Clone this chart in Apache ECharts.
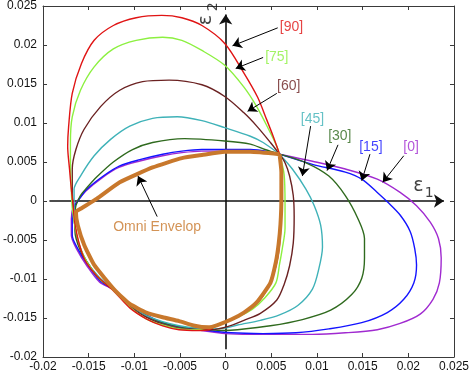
<!DOCTYPE html>
<html>
<head>
<meta charset="utf-8">
<script src="https://cdn.jsdelivr.net/npm/echarts@6/dist/echarts.min.js"></script>
<style>html,body{margin:0;padding:0;background:#fff}#c{width:472px;height:373px}</style>
</head>
<body>
<div id="c"></div>
<script>
// ---- data (strain values) ----
const curve0 = [[0.0059,0.0060],[0.0095,0.0051],[0.0131,0.0041],[0.0166,0.0028],[0.0191,0.0011],[0.0209,-0.0006],[0.0224,-0.0027],[0.0233,-0.0048],[0.0236,-0.0073],[0.0234,-0.0105],[0.0227,-0.0126],[0.0213,-0.0145],[0.0191,-0.0157],[0.0166,-0.0165],[0.0131,-0.0169],[0.0095,-0.0171],[0.0060,-0.0171],[0.0027,-0.0171],[-0.0001,-0.0170],[-0.0026,-0.0166],[-0.0051,-0.0162],[-0.0069,-0.0157],[-0.0087,-0.0147],[-0.0105,-0.0134],[-0.0121,-0.0115],[-0.0138,-0.0104],[-0.0152,-0.0083],[-0.0163,-0.0062],[-0.0169,-0.0044],[-0.0169,-0.0023],[-0.0167,-0.0008],[-0.0161,0.0002],[-0.0153,0.0013],[-0.0135,0.0030],[-0.0117,0.0043],[-0.0095,0.0051],[-0.0069,0.0058],[-0.0048,0.0062],[-0.0026,0.0064],[-0.0001,0.0064],[0.0027,0.0064],[0.0049,0.0062],[0.0059,0.0060]];
const curve15 = [[0.0059,0.0060],[0.0095,0.0047],[0.0131,0.0037],[0.0149,0.0028],[0.0166,0.0011],[0.0177,-0.0001],[0.0191,-0.0018],[0.0202,-0.0039],[0.0207,-0.0061],[0.0209,-0.0082],[0.0206,-0.0105],[0.0195,-0.0126],[0.0177,-0.0143],[0.0149,-0.0156],[0.0113,-0.0164],[0.0077,-0.0169],[0.0041,-0.0170],[0.0006,-0.0169],[-0.0026,-0.0165],[-0.0051,-0.0161],[-0.0069,-0.0156],[-0.0087,-0.0146],[-0.0105,-0.0133],[-0.0121,-0.0115],[-0.0137,-0.0103],[-0.0151,-0.0082],[-0.0162,-0.0061],[-0.0168,-0.0044],[-0.0168,-0.0023],[-0.0166,-0.0008],[-0.0160,0.0003],[-0.0152,0.0015],[-0.0134,0.0032],[-0.0116,0.0045],[-0.0094,0.0053],[-0.0069,0.0060],[-0.0048,0.0064],[-0.0026,0.0066],[-0.0001,0.0066],[0.0027,0.0066],[0.0049,0.0063],[0.0059,0.0060]];
const curve30 = [[0.0059,0.0060],[0.0088,0.0049],[0.0113,0.0032],[0.0131,0.0007],[0.0145,-0.0023],[0.0152,-0.0048],[0.0152,-0.0073],[0.0149,-0.0099],[0.0138,-0.0120],[0.0115,-0.0140],[0.0084,-0.0152],[0.0049,-0.0160],[0.0013,-0.0165],[-0.0001,-0.0166],[-0.0026,-0.0164],[-0.0051,-0.0161],[-0.0069,-0.0156],[-0.0087,-0.0147],[-0.0105,-0.0133],[-0.0121,-0.0115],[-0.0137,-0.0101],[-0.0151,-0.0080],[-0.0160,-0.0061],[-0.0165,-0.0039],[-0.0165,-0.0018],[-0.0164,-0.0006],[-0.0159,0.0007],[-0.0152,0.0017],[-0.0141,0.0031],[-0.0123,0.0050],[-0.0102,0.0066],[-0.0080,0.0075],[-0.0045,0.0080],[-0.0001,0.0077],[0.0027,0.0073],[0.0043,0.0066],[0.0059,0.0060]];
const curve45 = [[0.0059,0.0060],[0.0073,0.0041],[0.0088,0.0015],[0.0097,-0.0006],[0.0104,-0.0031],[0.0106,-0.0059],[0.0102,-0.0087],[0.0095,-0.0113],[0.0079,-0.0134],[0.0059,-0.0146],[0.0038,-0.0153],[0.0013,-0.0159],[-0.0001,-0.0163],[-0.0016,-0.0164],[-0.0051,-0.0160],[-0.0087,-0.0147],[-0.0105,-0.0132],[-0.0121,-0.0115],[-0.0139,-0.0097],[-0.0153,-0.0076],[-0.0161,-0.0054],[-0.0165,-0.0033],[-0.0166,-0.0010],[-0.0166,0.0015],[-0.0159,0.0032],[-0.0144,0.0058],[-0.0126,0.0079],[-0.0105,0.0096],[-0.0080,0.0106],[-0.0053,0.0108],[-0.0026,0.0103],[-0.0001,0.0094],[0.0027,0.0083],[0.0041,0.0075],[0.0059,0.0060]];
const curve60 = [[0.0059,0.0060],[0.0065,0.0049],[0.0070,0.0032],[0.0074,0.0007],[0.0075,-0.0020],[0.0074,-0.0054],[0.0070,-0.0083],[0.0064,-0.0107],[0.0056,-0.0127],[0.0038,-0.0144],[0.0020,-0.0153],[0.0002,-0.0161],[-0.0016,-0.0165],[-0.0051,-0.0163],[-0.0069,-0.0158],[-0.0087,-0.0149],[-0.0105,-0.0135],[-0.0121,-0.0115],[-0.0138,-0.0100],[-0.0152,-0.0078],[-0.0161,-0.0056],[-0.0165,-0.0033],[-0.0167,-0.0010],[-0.0168,0.0015],[-0.0168,0.0041],[-0.0164,0.0066],[-0.0155,0.0092],[-0.0137,0.0121],[-0.0116,0.0142],[-0.0091,0.0153],[-0.0062,0.0155],[-0.0026,0.0149],[-0.0001,0.0134],[0.0020,0.0113],[0.0034,0.0096],[0.0049,0.0075],[0.0059,0.0060]];
const curve75 = [[0.0059,0.0060],[0.0064,0.0034],[0.0065,-0.0004],[0.0065,-0.0035],[0.0062,-0.0061],[0.0059,-0.0081],[0.0055,-0.0105],[0.0043,-0.0124],[0.0029,-0.0139],[0.0013,-0.0149],[-0.0001,-0.0156],[-0.0016,-0.0162],[-0.0034,-0.0165],[-0.0051,-0.0164],[-0.0069,-0.0159],[-0.0087,-0.0151],[-0.0105,-0.0136],[-0.0121,-0.0115],[-0.0137,-0.0101],[-0.0151,-0.0080],[-0.0160,-0.0057],[-0.0165,-0.0033],[-0.0168,-0.0009],[-0.0169,0.0015],[-0.0170,0.0045],[-0.0170,0.0075],[-0.0168,0.0108],[-0.0159,0.0142],[-0.0144,0.0172],[-0.0123,0.0195],[-0.0098,0.0206],[-0.0069,0.0210],[-0.0048,0.0206],[-0.0026,0.0193],[-0.0001,0.0174],[0.0020,0.0146],[0.0034,0.0121],[0.0047,0.0092],[0.0056,0.0070],[0.0059,0.0060]];
const curve90 = [[0.0059,0.0060],[0.0061,0.0034],[0.0061,-0.0004],[0.0060,-0.0042],[0.0057,-0.0073],[0.0050,-0.0102],[0.0037,-0.0128],[0.0021,-0.0143],[0.0004,-0.0153],[-0.0010,-0.0160],[-0.0018,-0.0165],[-0.0030,-0.0166],[-0.0051,-0.0165],[-0.0069,-0.0160],[-0.0087,-0.0151],[-0.0105,-0.0137],[-0.0123,-0.0115],[-0.0141,-0.0096],[-0.0154,-0.0076],[-0.0161,-0.0052],[-0.0165,-0.0029],[-0.0167,-0.0006],[-0.0169,0.0015],[-0.0171,0.0041],[-0.0173,0.0070],[-0.0172,0.0095],[-0.0168,0.0138],[-0.0158,0.0176],[-0.0144,0.0206],[-0.0123,0.0225],[-0.0098,0.0235],[-0.0070,0.0238],[-0.0048,0.0235],[-0.0026,0.0225],[-0.0001,0.0202],[0.0020,0.0164],[0.0035,0.0133],[0.0045,0.0104],[0.0052,0.0083],[0.0059,0.0060]];
const omniEnvelope = [[0.0059,0.0060],[0.0061,0.0037],[0.0061,0.0003],[0.0060,-0.0030],[0.0058,-0.0055],[0.0055,-0.0078],[0.0049,-0.0105],[0.0034,-0.0130],[0.0020,-0.0143],[0.0006,-0.0152],[-0.0009,-0.0159],[-0.0019,-0.0162],[-0.0034,-0.0160],[-0.0051,-0.0154],[-0.0069,-0.0149],[-0.0087,-0.0143],[-0.0105,-0.0132],[-0.0121,-0.0115],[-0.0144,-0.0082],[-0.0155,-0.0056],[-0.0162,-0.0031],[-0.0164,-0.0014],[-0.0159,-0.0010],[-0.0141,0.0003],[-0.0116,0.0024],[-0.0080,0.0043],[-0.0048,0.0055],[-0.0026,0.0059],[-0.0001,0.0063],[0.0027,0.0063],[0.0059,0.0060]];

const curveNames = ['[0]','[15]','[30]','[45]','[60]','[75]','[90]'];
const curveColors = ['#a02ad0','#1414ff','#2f6a1e','#3fb2b8','#6b2222','#8cf040','#e01414'];
const omniName = 'Omni Envelop';
const omniColor = '#c8782c';

// annotation label anchors and arrows (data coordinates)
const labelTexts = ['[0]','[15]','[30]','[45]','[60]','[75]','[90]','Omni Envelop'];
const labelAnchors = [[0.0203,0.0069],[0.0159,0.0069],[0.0125,0.0083],[0.0095,0.0105],[0.0069,0.0147],[0.0056,0.0184],[0.0072,0.0223],[-0.0075,-0.0033]];
const arrowFrom = [[0.0195,0.0058],[0.0158,0.0060],[0.0123,0.0072],[0.0093,0.0096],[0.0056,0.0138],[0.0041,0.0184],[0.0057,0.0222],[-0.0075,-0.0020]];
const arrowTo = [[0.0172,0.0024],[0.0149,0.0026],[0.0111,0.0039],[0.0084,0.0032],[0.0024,0.0115],[0.0011,0.0170],[0.00075,0.0199],[-0.0096,0.0032]];
// origin axes (with arrows)
const axisArrowFrom = [[-0.0193,0],[0,-0.0190]];
const axisArrowTo = [[0.0239,0],[0,0.0239]];
const axisTitleTexts = ['ε','1','ε','2'];
const axisTitleAnchors = [[0.0211,0.0019],[0.0223,0.0010],[-0.0021,0.0232],[-0.0013,0.0249]];

const xMin = -0.02, xMax = 0.025, yMin = -0.02, yMax = 0.025, tickStep = 0.005;

// ---- chart ----
const FONT = '"Liberation Sans", Arial, sans-serif';
const chart = echarts.init(document.getElementById('c'), null, {renderer: 'canvas'});
const frameColor = '#3a3a3a';
function valAxis(pos, min, max, showLabel) {
  return {
    type: 'value', position: pos, min: min, max: max, interval: tickStep,
    axisLine: {show: true, onZero: false, lineStyle: {color: frameColor, width: 1}},
    axisTick: {show: true, inside: true, length: 4, lineStyle: {color: frameColor}},
    axisLabel: {show: showLabel, color: '#111', fontFamily: FONT, fontSize: 12, margin: pos === 'left' ? 6 : 4},
    splitLine: {show: false}
  };
}
const curves = [curve0, curve15, curve30, curve45, curve60, curve75, curve90];
const series = [];
curves.forEach((c, i) => {
  series.push({
    name: curveNames[i], type: 'line', data: c, showSymbol: false, symbol: 'none',
    smooth: 0.3, lineStyle: {color: curveColors[i], width: 1.4}, z: 3, animation: false
  });
});
series.push({
  name: omniName, type: 'line', data: omniEnvelope, showSymbol: false, symbol: 'none',
  smooth: 0.15, lineStyle: {color: omniColor, width: 4}, z: 4, animation: false
});
// origin axis lines with arrows
series.push({
  type: 'lines', coordinateSystem: 'cartesian2d', polyline: false, z: 2, animation: false,
  symbol: ['none', 'arrow'], symbolSize: 10,
  lineStyle: {color: '#111', width: 1.6, opacity: 1, curveness: 0},
  data: axisArrowFrom.map((p, i) => ({coords: [p, axisArrowTo[i]]}))
});
// annotation arrows
series.push({
  type: 'lines', coordinateSystem: 'cartesian2d', polyline: false, z: 5, animation: false,
  symbol: ['none', 'arrow'], symbolSize: 9,
  lineStyle: {color: '#000', width: 1, opacity: 1, curveness: 0},
  data: arrowFrom.map((p, i) => ({coords: [p, arrowTo[i]]}))
});
// annotation texts
const textColors = curveColors.concat([omniColor]);
series.push({
  type: 'scatter', symbolSize: 0, z: 6, animation: false, silent: true,
  data: labelAnchors.map((p, i) => ({
    value: p,
    label: {show: true, position: 'inside', formatter: labelTexts[i], color: textColors[i],
            fontFamily: FONT, fontSize: 14}
  }))
});
// axis titles eps1, eps2
const titleSizes = [19, 14, 19, 14];
const titleRot = [0, 0, 90, 90];
series.push({
  type: 'scatter', symbolSize: 0, z: 6, animation: false, silent: true,
  data: axisTitleAnchors.map((p, i) => ({
    value: p,
    label: {show: true, position: 'inside', formatter: axisTitleTexts[i], color: '#111',
            fontFamily: '"DejaVu Sans", sans-serif', fontSize: titleSizes[i], rotate: titleRot[i]}
  }))
});

chart.setOption({
  animation: false,
  backgroundColor: '#fff',
  grid: {left: 38, right: 14, top: 5, bottom: 13, containLabel: false},
  xAxis: [valAxis('bottom', xMin, xMax, true), valAxis('top', xMin, xMax, false)],
  yAxis: [valAxis('left', yMin, yMax, true), valAxis('right', yMin, yMax, false)],
  series: series
});
</script>
</body>
</html>
